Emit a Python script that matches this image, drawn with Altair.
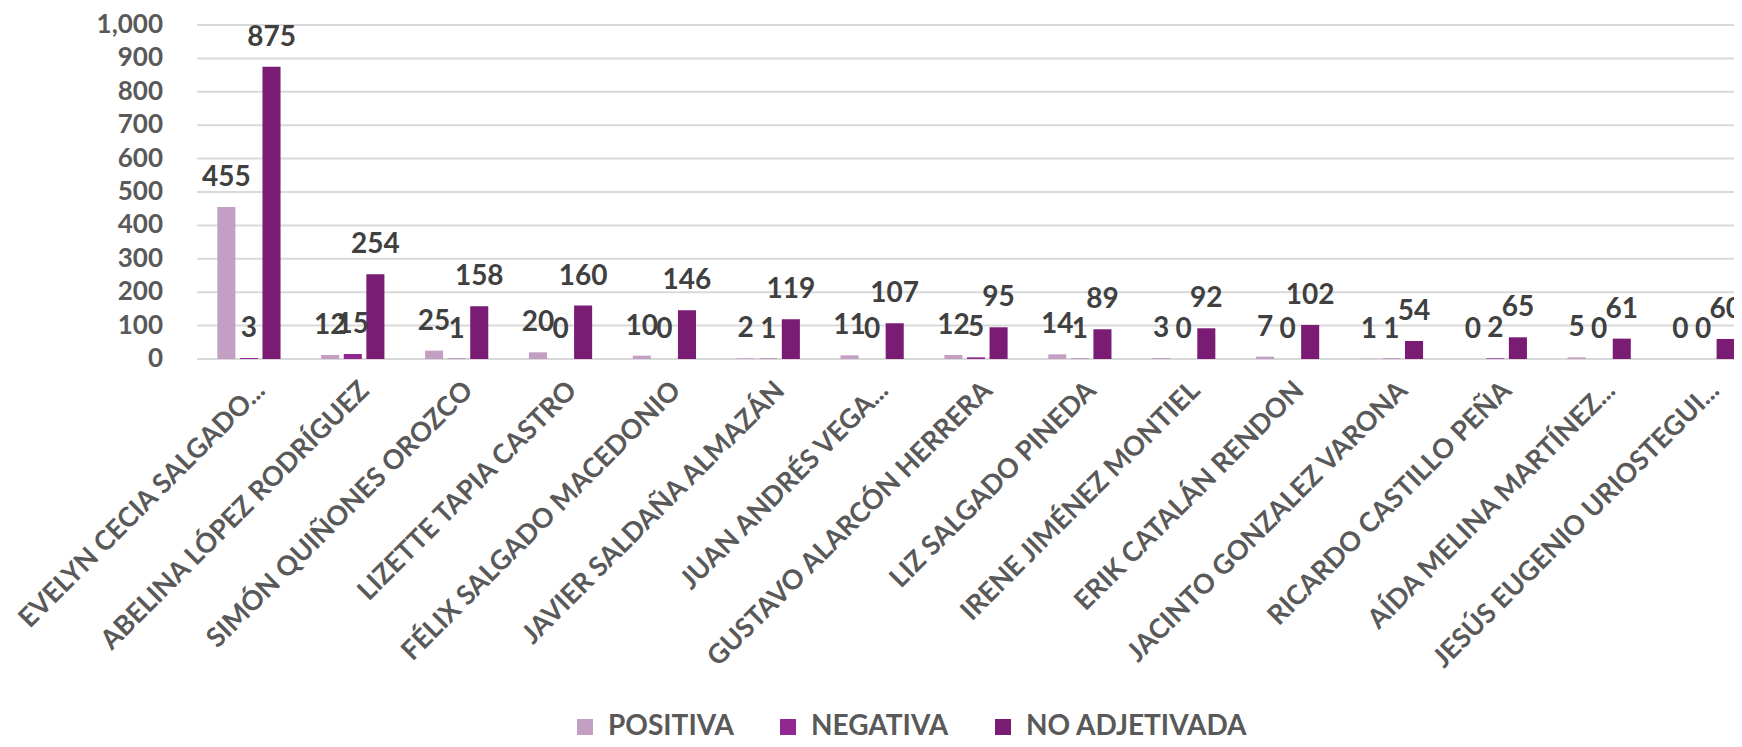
import altair as alt
import pandas as pd

candidatos = [
    "EVELYN CECIA SALGADO...",
    "ABELINA LÓPEZ RODRÍGUEZ",
    "SIMÓN QUIÑONES OROZCO",
    "LIZETTE TAPIA CASTRO",
    "FÉLIX SALGADO MACEDONIO",
    "JAVIER SALDAÑA ALMAZÁN",
    "JUAN ANDRÉS VEGA...",
    "GUSTAVO ALARCÓN HERRERA",
    "LIZ SALGADO PINEDA",
    "IRENE JIMÉNEZ MONTIEL",
    "ERIK  CATALÁN RENDON",
    "JACINTO GONZALEZ VARONA",
    "RICARDO CASTILLO PEÑA",
    "AÍDA MELINA MARTÍNEZ...",
    "JESÚS EUGENIO URIOSTEGUI...",
]
positiva = [455, 12, 25, 20, 10, 2, 11, 12, 14, 3, 7, 1, 0, 5, 0]
negativa = [3, 15, 1, 0, 0, 1, 0, 5, 1, 0, 0, 1, 2, 0, 0]
no_adjetivada = [875, 254, 158, 160, 146, 119, 107, 95, 89, 92, 102, 54, 65, 61, 60]

series = ["POSITIVA", "NEGATIVA", "NO ADJETIVADA"]
colores = ["#C3A0C3", "#92278F", "#7A1C74"]
y_ticks = list(range(0, 1001, 100))

rows = []
for i, c in enumerate(candidatos):
    for s, vals in zip(series, [positiva, negativa, no_adjetivada]):
        rows.append({"candidato": c, "serie": s, "valor": vals[i]})
df = pd.DataFrame(rows)
ticks_df = pd.DataFrame({"valor": y_ticks})

FONT = "Lato"
W, H = 1537, 334

x_enc = alt.X(
    "candidato:N",
    sort=candidatos,
    scale=alt.Scale(range=[0, 1558], paddingInner=0, paddingOuter=0),
    axis=alt.Axis(
        title=None,
        labelAngle=-45,
        labelAlign="right",
        labelBaseline="middle",
        labelFont=FONT,
        labelFontWeight="bold",
        labelFontSize=27,
        labelColor="#595959",
        labelPadding=27,
        labelOffset=12,
        labelLimit=0,
        labelOverlap=False,
        ticks=False,
        domain=False,
        grid=False,
    ),
)
xoff = alt.XOffset(
    "serie:N", sort=series, scale=alt.Scale(paddingInner=0.2, paddingOuter=0.9)
)
y_enc = alt.Y(
    "valor:Q",
    scale=alt.Scale(domain=[0, 1000], nice=False),
    axis=None,
)

grid = alt.Chart(ticks_df).mark_rule(color="#D9D9D9", strokeWidth=2).encode(
    y=y_enc,
    x=alt.value(0),
    x2=alt.value(W),
)

y_labels = alt.Chart(ticks_df).mark_text(
    font=FONT, fontWeight="bold", fontSize=26, color="#595959",
    align="right", baseline="middle",
).encode(
    y=y_enc,
    x=alt.value(-34),
    text=alt.Text("valor:Q", format=",d"),
)

bars = alt.Chart(df).mark_bar().encode(
    x=x_enc,
    xOffset=xoff,
    y=y_enc,
    color=alt.Color(
        "serie:N",
        sort=series,
        scale=alt.Scale(domain=series, range=colores),
        legend=alt.Legend(
            title=None,
            orient="none",
            direction="horizontal",
            legendX=374,
            legendY=688,
            symbolType="square",
            symbolSize=256,
            symbolStrokeWidth=0,
            labelFont=FONT,
            labelFontWeight="bold",
            labelFontSize=28,
            labelColor="#595959",
            labelOffset=9,
            labelLimit=0,
            columnPadding=40,
            padding=0,
        ),
    ),
)

labels = alt.Chart(df).mark_text(
    font=FONT, fontWeight="bold", fontSize=28, color="#404040",
    baseline="middle", dy=-29,
).encode(
    x=x_enc,
    xOffset=xoff,
    y=y_enc,
    text=alt.Text("valor:Q", format="d"),
)

chart = (
    alt.layer(grid, y_labels, bars, labels)
    .properties(
        width=W,
        height=H,
        autosize=alt.AutoSizeParams(type="none"),
        padding={"left": 189, "top": 17, "right": 0, "bottom": 380},
        background="white",
    )
    .configure_view(stroke=None)
)

chart.save("out.html", embed_options={"renderer": "svg", "actions": False})
